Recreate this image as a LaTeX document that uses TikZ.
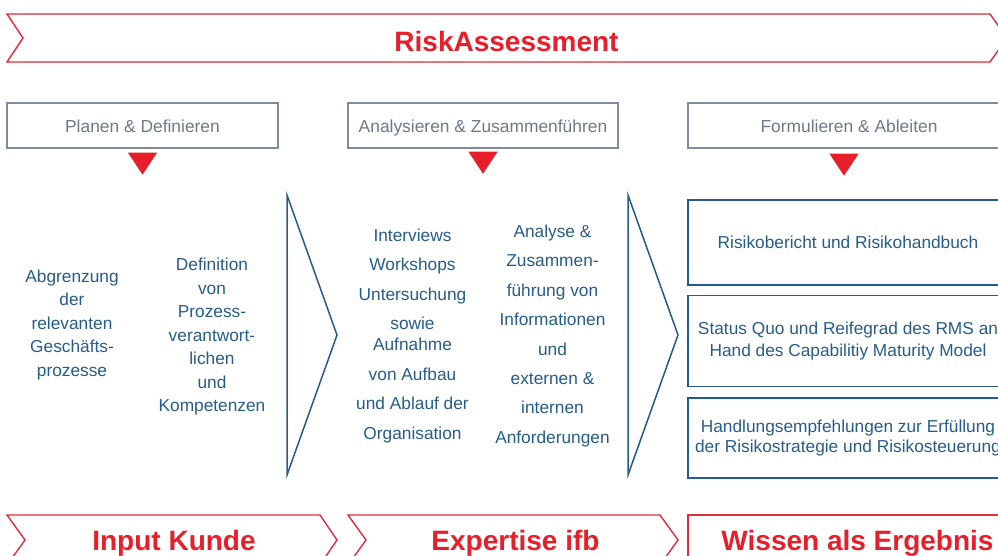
\documentclass[tikz,border=0pt]{standalone}
\usepackage{fontspec}
\setmainfont{Liberation Sans}
\usetikzlibrary{positioning}

\definecolor{ifbred}{RGB}{232,30,42}
\definecolor{ifbline}{RGB}{224,44,60}
\definecolor{ifbblue}{RGB}{38,92,140}
\definecolor{ifbgray}{RGB}{128,140,155}
\definecolor{ifbgraytext}{RGB}{110,121,136}

\begin{document}
\begin{tikzpicture}[x = 1pt, y = -1pt,
	band/.style = {draw = ifbline, line width = 1.4pt},
	headline/.style = {text = ifbred, font = \bfseries\fontsize{28}{30}\selectfont, anchor = base},
	phase/.style = {draw = ifbgray, line width = 1.5pt, text = ifbgraytext, minimum width = 271pt, minimum height = 45pt, inner sep = 0pt, text height = 15pt, text depth = 0pt, font = \fontsize{17.4}{20}\selectfont},
	marker/.style = {fill = ifbred},
	chevron/.style = {draw = ifbblue, line width = 1.5pt},
	column/.style = {text = ifbblue, align = center, inner sep = 0pt},
	result/.style = {draw = ifbblue, line width = 1.5pt, text = ifbblue, align = center, minimum width = 320pt, inner sep = 0pt, font = \fontsize{17.3}{22}\selectfont}]
	\clip (0,0) rectangle (998,556);

	\draw[band] (7,14) -- (990,14) -- (1007,38) -- (990,62) -- (7,62) -- (23,38) -- cycle;
	\node[headline] (title) at (506.5,52) {RiskAssessment};

	\node[phase] (plan) at (142.5,125.5) {Planen \& Definieren};
	\node[phase, minimum width = 270pt] (analyse) at (483,125.5) {Analysieren \& Zusammenführen};
	\node[phase, minimum width = 322pt] (form) at (849,125.5) {Formulieren \& Ableiten};
	\fill[marker] (plan.south) ++(-14.5,4) -- ++(29,0) -- ++(-14.5,22) -- cycle;
	\fill[marker] (analyse.south) ++(-14.5,3) -- ++(29,0) -- ++(-14.5,22) -- cycle;
	\fill[marker] (form.south) ++(-19.5,5) -- ++(29,0) -- ++(-14.5,22) -- cycle;

	\node[column, font = \fontsize{17.3}{23.5}\selectfont] (scope) at (72,325) {Abgrenzung\\der\\relevanten\\Geschäfts-\\prozesse};
	\node[column, font = \fontsize{17.3}{23.5}\selectfont] (owner) at (212,337) {Definition\\von\\Prozess-\\verantwort-\\lichen\\und\\Kompetenzen};
	\draw[chevron] (287,195) -- (337,335) -- (287,475) -- cycle;

	\node[column, font = \fontsize{17.3}{29.5}\selectfont] (methods) at (412.5,336) {Interviews\\Workshops\\Untersuchung\\sowie\\[-8.5pt]Aufnahme\\von Aufbau\\und Ablauf der\\Organisation};
	\node[column, font = \fontsize{17.3}{29.4}\selectfont] (merge) at (552.5,336) {Analyse \&\\Zusammen-\\führung von\\Informationen\\und\\externen \&\\internen\\Anforderungen};
	\draw[chevron] (628,195) -- (678,335) -- (628,475) -- cycle;

	\node[result, minimum height = 85pt] (report) at (848,242.5) {Risikobericht und Risikohandbuch};
	\node[result, minimum height = 91pt, below = 9pt of report] (maturity) {Status Quo und Reifegrad des RMS an\\Hand des Capabilitiy Maturity Model};
	\node[result, minimum height = 80pt, below = 10pt of maturity, font = \fontsize{17.3}{20}\selectfont] (advice) {Handlungsempfehlungen zur Erfüllung\\der Risikostrategie und Risikosteuerung};

	\draw[band] (7,515) -- (320,515) -- (337,540) -- (320,565) -- (7,565) -- (25,540) -- cycle;
	\draw[band] (348,515) -- (660,515) -- (678,540) -- (660,565) -- (348,565) -- (366,540) -- cycle;
	\draw[band] (1010,565) -- (688,565) -- (688,515) -- (1010,515);
	\node[headline] (input) at (174,550) {Input Kunde};
	\node[headline] (expertise) at (515.5,550) {Expertise ifb};
	\node[headline] (knowledge) at (857.5,550) {Wissen als Ergebnis};
\end{tikzpicture}
\end{document}
